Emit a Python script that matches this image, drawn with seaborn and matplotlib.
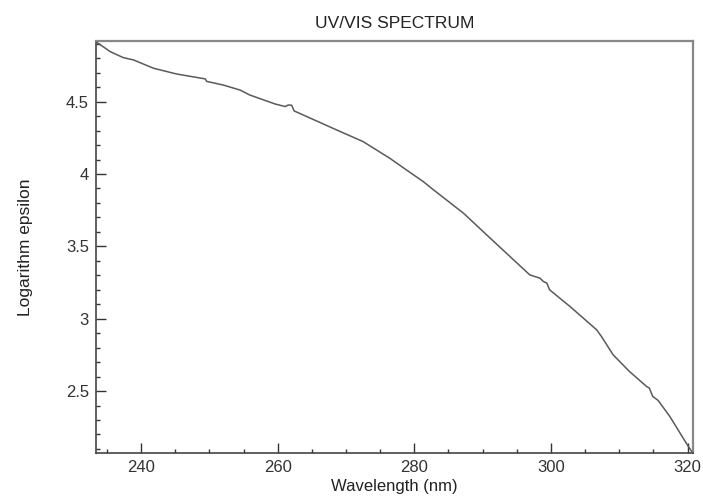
import numpy as np
import pandas as pd
import matplotlib
matplotlib.use("Agg")
import matplotlib.pyplot as plt
from matplotlib.ticker import MultipleLocator
import seaborn as sns

# spectrum
wavelength = [233.4, 235.5, 237.4, 238.9, 241.8, 245.2, 249.4, 249.6, 252.0,
              254.5, 255.9, 259.6, 261.1, 261.55, 262.05, 262.4, 268.6, 272.5,
              276.4, 279.7, 281.3, 282.5, 287.2, 291.1, 296.9, 298.4, 298.9,
              299.4, 299.8, 301.3, 302.8, 306.7, 307.4, 309.1, 311.5, 314.0,
              314.4, 314.9, 315.7, 317.4, 319.8, 320.6]
log_eps = [4.914, 4.845, 4.804, 4.788, 4.731, 4.691, 4.657, 4.640, 4.615,
           4.580, 4.546, 4.484, 4.466, 4.477, 4.475, 4.436, 4.305, 4.224,
           4.109, 4.000, 3.948, 3.902, 3.729, 3.557, 3.303, 3.280, 3.257,
           3.246, 3.200, 3.142, 3.084, 2.923, 2.877, 2.751, 2.635, 2.532,
           2.521, 2.463, 2.435, 2.325, 2.141, 2.083]

df = pd.DataFrame({"wl": wavelength, "eps": log_eps})

sns.set_style("white")
plt.rcParams['font.family'] = ['Liberation Sans', 'DejaVu Sans']

fig = plt.figure(figsize=(7.03, 4.97), dpi=100)
ax = fig.add_axes([96 / 703, 1 - 453 / 497, 597 / 703, 412 / 497])

sns.lineplot(data=df, x="wl", y="eps", ax=ax, color="#5a5a5a", linewidth=1.1)

ax.set_xlim(233.4, 320.8)
ax.set_ylim(2.072, 4.919)
ax.xaxis.set_major_locator(MultipleLocator(20))
ax.xaxis.set_minor_locator(MultipleLocator(5))
ax.yaxis.set_major_locator(MultipleLocator(0.5))
ax.yaxis.set_minor_locator(MultipleLocator(0.1))
ax.yaxis.set_major_formatter(plt.FuncFormatter(lambda v, p: f"{v:g}"))

ax.tick_params(which="major", direction="in", length=7, width=1, colors="#333333",
               labelsize=12, labelcolor="#333333", bottom=True, left=True, pad=5)
ax.tick_params(which="minor", direction="in", length=3, width=1, colors="#333333",
               bottom=True, left=True)

for side in ["left", "bottom"]:
    ax.spines[side].set_color("#444444")
    ax.spines[side].set_linewidth(1.2)
for side in ["top", "right"]:
    ax.spines[side].set_color("#888888")
    ax.spines[side].set_linewidth(1.6)

ax.set_title("UV/VIS SPECTRUM", fontsize=12.5, color="#222222", pad=9)
ax.set_xlabel("Wavelength (nm)", fontsize=12, color="#222222", labelpad=3)
ax.set_ylabel("Logarithm epsilon", fontsize=12.5, color="#222222", labelpad=24)

fig.savefig("out.png", dpi=100)
